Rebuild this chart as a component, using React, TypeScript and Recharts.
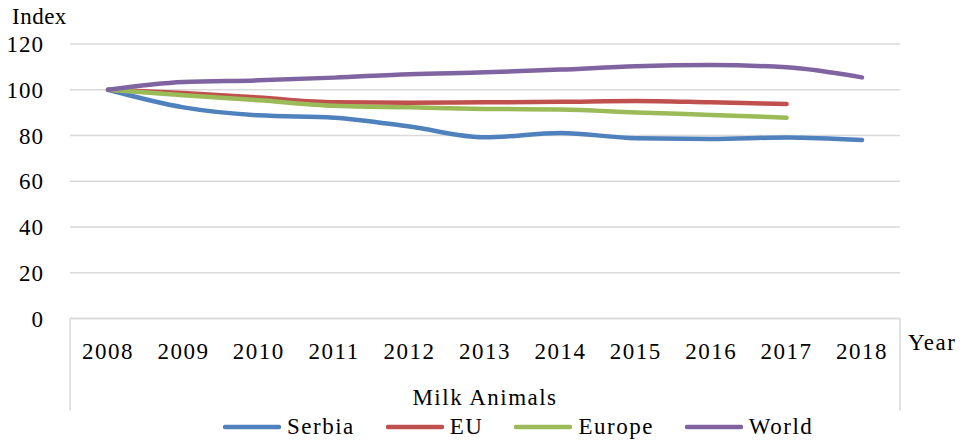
import React from 'react';
import { LineChart, Line, XAxis, YAxis, CartesianGrid, Legend, usePlotArea } from 'recharts';

const years = ['2008', '2009', '2010', '2011', '2012', '2013', '2014', '2015', '2016', '2017', '2018'];
const serbia = [100, 92.3, 88.8, 87.8, 83.9, 79.2, 81.1, 78.8, 78.5, 79.1, 78.0];
const eu = [100, 98.6, 96.6, 94.5, 94.3, 94.5, 94.7, 95.1, 94.5, 93.8, null];
const europe = [100, 97.6, 95.4, 93.0, 92.3, 91.6, 91.4, 90.1, 89.0, 87.8, null];
const world = [100, 103.4, 104.1, 105.3, 106.8, 107.6, 108.8, 110.3, 110.8, 109.8, 105.4];
const yTicks = [0, 20, 40, 60, 80, 100, 120];

const seriesDefs = [
  { key: 'Serbia', color: '#4F81BD', values: serbia },
  { key: 'EU', color: '#C0504D', values: eu },
  { key: 'Europe', color: '#9BBB59', values: europe },
  { key: 'World', color: '#8064A2', values: world },
];

const data = years.map((y, i) => {
  const row: Record<string, any> = { year: y };
  seriesDefs.forEach((s) => { row[s.key] = s.values[i]; });
  return row;
});

const FONT = '"Liberation Serif", serif';

function Decorations() {
  const p = usePlotArea();
  if (!p) return null;
  const bottom = p.y + p.height;
  const right = p.x + p.width;
  return (
    <g>
      <line x1={p.x} y1={bottom} x2={p.x} y2={bottom + 92} stroke="#d9d9d9" strokeWidth={1.5} />
      <line x1={right} y1={bottom} x2={right} y2={bottom + 92} stroke="#d9d9d9" strokeWidth={1.5} />
      <text x={p.x + p.width / 2} y={bottom + 86} textAnchor="middle" fontFamily={FONT} fontSize={23} letterSpacing={1.5} fill="#000">Milk Animals</text>
      <text x={right + 8} y={bottom + 31} fontFamily={FONT} fontSize={23} letterSpacing={1.5} fill="#000">Year</text>
      <text x={12} y={24} fontFamily={FONT} fontSize={23} letterSpacing={0.5} fill="#000">Index</text>
    </g>
  );
}

function LegendContent() {
  return (
    <div style={{ display: 'flex', alignItems: 'center', paddingLeft: 223, height: 30, fontFamily: FONT, fontSize: 23, letterSpacing: 1.5, color: '#000' }}>
      {seriesDefs.map((s) => (
        <div key={s.key} style={{ display: 'flex', alignItems: 'center', marginRight: 31 }}>
          <svg width={58} height={8} style={{ marginRight: 6 }}>
            <line x1={2} y1={4} x2={56} y2={4} stroke={s.color} strokeWidth={4.5} strokeLinecap="round" />
          </svg>
          <span>{s.key}</span>
        </div>
      ))}
    </div>
  );
}

export default function App() {
  return (
    <div style={{ width: 963, height: 442, background: '#fff' }}>
      <style>{'body{margin:0}'}</style>
      <LineChart width={963} height={442} data={data} margin={{ top: 44, right: 63, bottom: 0, left: 0 }}>
        <CartesianGrid vertical={false} stroke="#d9d9d9" strokeWidth={1.5} />
        <XAxis
          dataKey="year"
          height={93.5}
          padding={{ left: 38, right: 38 }}
          axisLine={{ stroke: '#d9d9d9', strokeWidth: 1.5 }}
          tickLine={false}
          tickSize={0}
          tickMargin={24}
          tick={{ fontFamily: FONT, fontSize: 23, fill: '#000', letterSpacing: 1.5 }}
        />
        <YAxis
          width={70}
          domain={[0, 120]}
          ticks={yTicks}
          axisLine={false}
          tickLine={false}
          tickSize={0}
          tickMargin={26}
          tick={{ fontFamily: FONT, fontSize: 23, fill: '#000', letterSpacing: 1 }}
        />
        <Legend verticalAlign="bottom" height={30} content={<LegendContent />} />
        {seriesDefs.map((s) => (
          <Line
            key={s.key}
            type="monotone"
            dataKey={s.key}
            stroke={s.color}
            strokeWidth={4.5}
            dot={false}
            activeDot={false}
            isAnimationActive={false}
            strokeLinecap="round"
          />
        ))}
        <Decorations />
      </LineChart>
    </div>
  );
}
